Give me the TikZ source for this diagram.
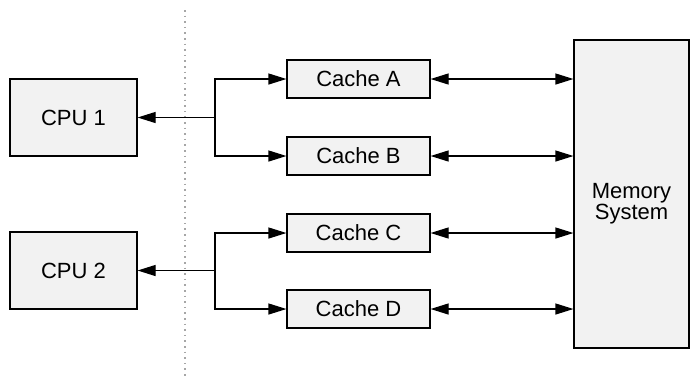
\documentclass[tikz,border=0pt]{standalone}
\usepackage{fontspec}
\setmainfont{Liberation Sans}
\usetikzlibrary{arrows.meta,positioning}

\begin{document}
\begin{tikzpicture}[
  x=0.5pt, y=-0.5pt,
  lbl/.style={inner sep=0pt, align=center, font=\fontsize{11}{10.5}\selectfont},
  blk/.style={lbl, draw, fill=black!5, line width=0.6pt},
  cpu/.style={blk, minimum width=63.5pt, minimum height=38.5pt},
  cache/.style={blk, minimum width=71.5pt, minimum height=19pt},
  arrow/.style={-{Triangle[length=9pt, width=5.5pt]}, line width=0.6pt},
  dualarrow/.style={{Triangle[length=9pt, width=5.5pt]}-{Triangle[length=9pt, width=5.5pt]}, line width=0.6pt}
]
  \useasboundingbox (0,0) rectangle (691,377);

  % divider
  \draw[gray!70, dotted, line width=0.8pt] (185,10) -- (185,377);

  % processors
  \node[cpu] (cpu1) at (73.5,117.5) {CPU 1};
  \node[cpu] (cpu2) at (73.5,270.5) {CPU 2};

  % caches
  \node[cache] (ca) at (358.5,79) {Cache A};
  \node[cache] (cb) at (358.5,156) {Cache B};
  \node[cache] (cc) at (358.5,233) {Cache C};
  \node[cache] (cd) at (358.5,309) {Cache D};

  % memory
  \node[blk, minimum width=57.5pt, minimum height=154pt] (mem) at (631.5,194) {};
  \node[lbl] (memtext) at ([yshift=-5pt]mem.center) {Memory\\System};

  \coordinate (j1) at (215,117.5);
  \coordinate (j2) at (215,270.5);

  \draw[arrow] (j1) -- (cpu1);
  \draw[arrow] (j1) |- (ca);
  \draw[arrow] (j1) |- (cb);
  \draw[arrow] (j2) -- (cpu2);
  \draw[arrow] (j2) |- (cc);
  \draw[arrow] (j2) |- (cd);

  \foreach \c in {ca,cb,cc,cd}
    \draw[dualarrow] (\c.east) -- (\c.east -| mem.west);
\end{tikzpicture}
\end{document}
